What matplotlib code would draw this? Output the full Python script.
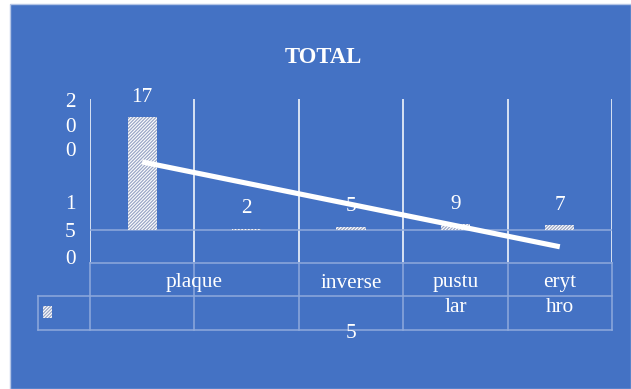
import numpy as np
import matplotlib
matplotlib.use("Agg")
import matplotlib.pyplot as plt
from matplotlib.patches import Rectangle
from matplotlib.lines import Line2D
from matplotlib.transforms import blended_transform_factory

# ---- data -------------------------------------------------------------
categories = ["plaque", "", "inverse", "pustular", "erythro"]
x_labels = ["plaque", "", "inverse", "pustu\nlar", "eryt\nhro"]
values = [170, 2, 5, 9, 7]
y_tick_labels = ["200", "150"]
title = "TOTAL"

# ---- style ------------------------------------------------------------
BG = "#4472C4"
GRID = "#8FAADC"
HATCH = "#9AA6C6"
FS = 15.3

plt.rcParams["font.family"] = ["Liberation Serif", "DejaVu Serif"]
plt.rcParams["hatch.linewidth"] = 0.9

W, H = 631, 389
fig = plt.figure(figsize=(W / 100, H / 100), dpi=100, facecolor="white")

# pixel-space canvas for the chart area, title and data table
cv = fig.add_axes([0, 0, 1, 1])
cv.set_xlim(0, W)
cv.set_ylim(H, 0)
cv.axis("off")
cv.add_patch(Rectangle((10, 4), W - 10, H - 4, facecolor=BG,
                       edgecolor="#B4C5E6", lw=1.0))
cv.text(323.5, 57.5, title, ha="center", va="center", color="white",
        fontsize=16.3, fontweight="bold")

# plot area
ax = fig.add_axes([90 / W, 1 - 262 / H, 522 / W, 163 / H])
ax.set_facecolor("none")
for s in ax.spines.values():
    s.set_visible(False)
ax.set_xticks([])
ax.set_yticks([])
n = len(values)
xs = np.arange(n)
ax.set_xlim(-0.5, n - 0.5)
ax.set_ylim(-48.1, 197.1)

bounds = np.arange(n + 1) - 0.5
for b in bounds:
    ax.axvline(b, color="white", lw=1.1, zorder=1)
ax.axhline(0, color=GRID, lw=1.1, zorder=1)

ax.bar(xs, values, width=0.28, color="white", edgecolor=HATCH,
       linewidth=0, hatch="//////////", zorder=2)

# linear trendline through the bar values
coef = np.polyfit(xs, values, 1)
ends = np.array([xs[0], xs[-1]])
ax.plot(ends, np.polyval(coef, ends), color="white", lw=3.7,
        solid_capstyle="butt", zorder=4)

# data labels, wrapped two characters per line; the wrapped remainder
# falls behind the bar
for i, v in enumerate(values):
    s = str(v)
    chunks = [s[k:k + 2] for k in range(0, len(s), 2)]
    for j, c in enumerate(chunks):
        ax.annotate(c, xy=(i, v), xytext=(0, 20 - 34 * j),
                    textcoords="offset pixels", ha="center", va="center",
                    color="white", fontsize=FS,
                    zorder=3 if j == 0 else 1.5,
                    annotation_clip=False)

# value-axis labels, wrapped one character per line
y_starts = [102.5, 204]
y_steps = [24.5, 28]
for lab, y0, dy in zip(y_tick_labels, y_starts, y_steps):
    for j, ch in enumerate(lab):
        cv.text(70, y0 + dy * j, ch, ha="center", va="center",
                color="white", fontsize=FS)

# data table below the plot
tb = blended_transform_factory(ax.transData, cv.transData)
rows = [263, 296, 330]
cv.add_line(Line2D([90, 612], [rows[0], rows[0]], color=GRID, lw=1.1))
for y in rows[1:]:
    cv.add_line(Line2D([38, 612], [y, y], color=GRID, lw=1.1))
cv.add_line(Line2D([38, 38], [rows[1], rows[2]], color=GRID, lw=1.1))
for b in bounds:
    ln = Line2D([b, b], [rows[0], rows[2]], color=GRID, lw=1.1,
                transform=tb)
    ln.set_clip_on(False)
    cv.add_line(ln)

# legend key in the table
cv.add_patch(Rectangle((43, 306), 9, 12, facecolor="white",
                       edgecolor=HATCH, lw=0, hatch="//////////"))

# category labels; an empty neighbour widens the cell
for i, lab in enumerate(x_labels):
    if not lab:
        continue
    xc = i + 0.5 if i + 1 < n and not x_labels[i + 1] else i
    for j, part in enumerate(lab.split("\n")):
        t = cv.text(xc, 283 + 25 * j, part, ha="center", va="center",
                    color="white", fontsize=FS, transform=tb)
        t.set_clip_on(False)

# the one value that shows in the table's value row
t = cv.text(2, 334, str(values[2]), ha="center", va="center",
            color="white", fontsize=FS, transform=tb)
t.set_clip_on(False)

fig.savefig("out.png", dpi=100, facecolor="white")
